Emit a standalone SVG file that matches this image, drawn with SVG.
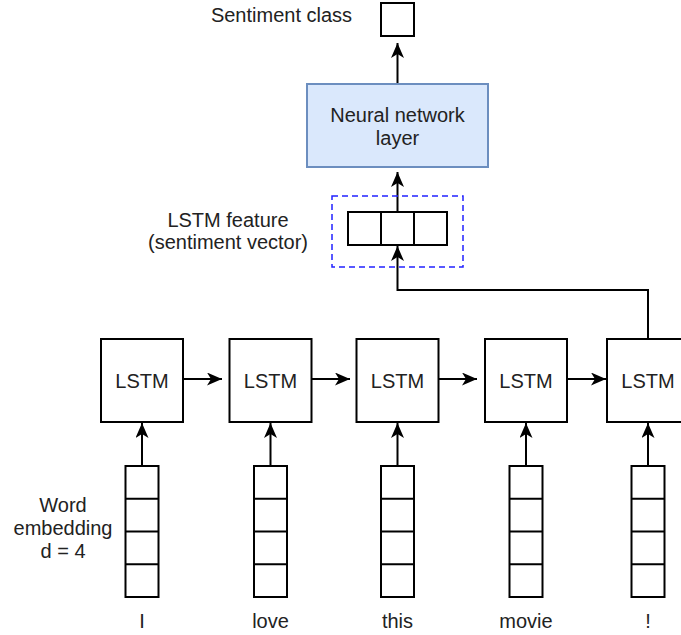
<svg xmlns="http://www.w3.org/2000/svg" width="681" height="635" viewBox="0 0 681 635">
<style>
  .t { font-family: "Liberation Sans", Arial, Helvetica, sans-serif; font-size: 20px; fill: #222222; text-anchor: middle; }
  .b { fill: #ffffff; stroke: #000000; stroke-width: 2; }
  .c { fill: none; stroke: #000000; stroke-width: 2; }
</style>
<defs>
  <marker id="arr" viewBox="0 0 15 13" refX="15" refY="6.5" markerWidth="15" markerHeight="13" orient="auto" markerUnits="userSpaceOnUse">
    <path d="M15,6.5 L0,0 L4,6.5 L0,13 Z" fill="#000000"/>
  </marker>
</defs>
<rect width="681" height="635" fill="#ffffff"/>

<g id="connectors">
  <line class="c" x1="397.5" y1="84" x2="397.5" y2="43" marker-end="url(#arr)"/>
  <line class="c" x1="397.5" y1="212" x2="397.5" y2="172" marker-end="url(#arr)"/>
  <path class="c" d="M648,339 V290 H397.5 V246" marker-end="url(#arr)"/>
  <line class="c" x1="183" y1="379" x2="222" y2="379" marker-end="url(#arr)"/>
  <line class="c" x1="312" y1="379" x2="350" y2="379" marker-end="url(#arr)"/>
  <line class="c" x1="439" y1="379" x2="477" y2="379" marker-end="url(#arr)"/>
  <line class="c" x1="567" y1="379" x2="606" y2="379" marker-end="url(#arr)"/>
  <line class="c" x1="142" y1="466" x2="142" y2="423" marker-end="url(#arr)"/>
  <line class="c" x1="270.5" y1="466" x2="270.5" y2="423" marker-end="url(#arr)"/>
  <line class="c" x1="397.5" y1="466" x2="397.5" y2="423" marker-end="url(#arr)"/>
  <line class="c" x1="526" y1="466" x2="526" y2="423" marker-end="url(#arr)"/>
  <line class="c" x1="648" y1="466" x2="648" y2="423" marker-end="url(#arr)"/>
</g>

<g id="sentiment-class">
  <rect class="b" x="381" y="3" width="33" height="33"/>
  <text class="t" x="281.5" y="22">Sentiment class</text>
</g>

<g id="neural-layer">
  <rect x="307" y="84" width="181" height="83" fill="#dae8fc" stroke="#6c8ebf" stroke-width="2"/>
  <text class="t" x="397.5" y="122">Neural network</text>
  <text class="t" x="397.5" y="145">layer</text>
</g>

<g id="lstm-feature">
  <rect x="332" y="196" width="131" height="71" fill="none" stroke="#2222ff" stroke-width="1.5" stroke-dasharray="6,4"/>
  <rect class="b" x="348" y="212" width="99" height="33"/>
  <line class="c" x1="381" y1="212" x2="381" y2="245"/>
  <line class="c" x1="414" y1="212" x2="414" y2="245"/>
  <text class="t" x="228" y="227">LSTM feature</text>
  <text class="t" x="228" y="249">(sentiment vector)</text>
</g>

<g id="lstm1"><rect class="b" x="101" y="339" width="82" height="83"/><text class="t" x="142" y="388">LSTM</text></g>
<g id="lstm2"><rect class="b" x="229.5" y="339" width="82" height="83"/><text class="t" x="270.5" y="388">LSTM</text></g>
<g id="lstm3"><rect class="b" x="356.5" y="339" width="82" height="83"/><text class="t" x="397.5" y="388">LSTM</text></g>
<g id="lstm4"><rect class="b" x="485" y="339" width="82" height="83"/><text class="t" x="526" y="388">LSTM</text></g>
<g id="lstm5"><rect class="b" x="607" y="339" width="82" height="83"/><text class="t" x="648" y="388">LSTM</text></g>

<g id="emb1">
  <rect class="b" x="125.5" y="466" width="33" height="131"/>
  <path class="c" d="M125.5,498.75 h33 M125.5,531.5 h33 M125.5,564.25 h33"/>
  <text class="t" x="142" y="628">I</text>
</g>
<g id="emb2">
  <rect class="b" x="254" y="466" width="33" height="131"/>
  <path class="c" d="M254,498.75 h33 M254,531.5 h33 M254,564.25 h33"/>
  <text class="t" x="270.5" y="628">love</text>
</g>
<g id="emb3">
  <rect class="b" x="381" y="466" width="33" height="131"/>
  <path class="c" d="M381,498.75 h33 M381,531.5 h33 M381,564.25 h33"/>
  <text class="t" x="397.5" y="628">this</text>
</g>
<g id="emb4">
  <rect class="b" x="509.5" y="466" width="33" height="131"/>
  <path class="c" d="M509.5,498.75 h33 M509.5,531.5 h33 M509.5,564.25 h33"/>
  <text class="t" x="526" y="628">movie</text>
</g>
<g id="emb5">
  <rect class="b" x="631.5" y="466" width="33" height="131"/>
  <path class="c" d="M631.5,498.75 h33 M631.5,531.5 h33 M631.5,564.25 h33"/>
  <text class="t" x="648" y="628">!</text>
</g>

<g id="embedding-label">
  <text class="t" x="63" y="512">Word</text>
  <text class="t" x="63" y="535">embedding</text>
  <text class="t" x="63" y="558">d = 4</text>
</g>
</svg>
